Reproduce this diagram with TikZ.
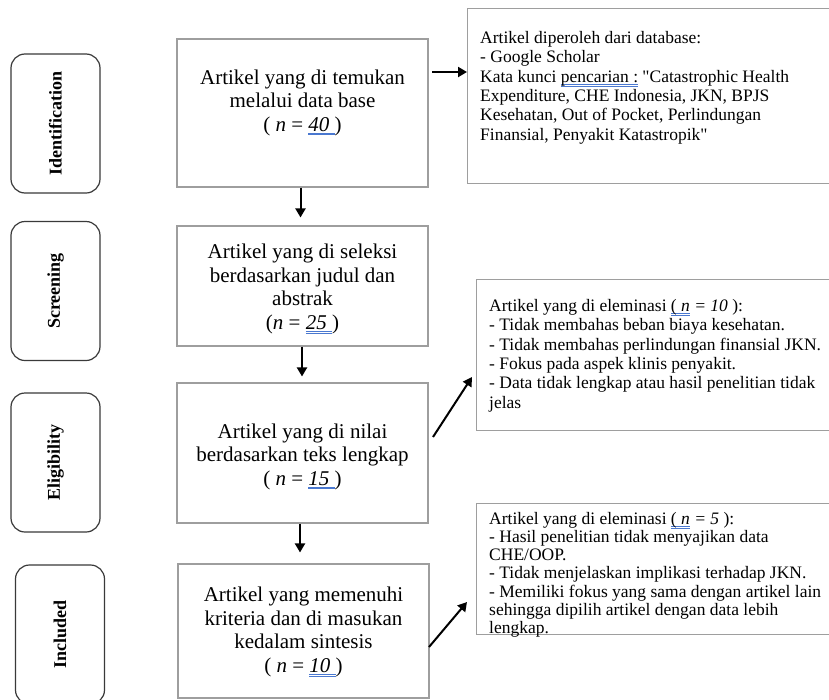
\documentclass[tikz,border=0pt]{standalone}
\usepackage{fontspec}
\setmainfont{Liberation Serif}[Ligatures=TeXOff]
\usetikzlibrary{arrows.meta}
\definecolor{boxgray}{HTML}{9E9E9E}
\definecolor{stagegray}{HTML}{3A3A3A}
\definecolor{ulblue}{HTML}{4A78D0}
\newcommand{\wul}[1]{\setbox0=\hbox{#1}\rlap{\color{ulblue}\raisebox{-2.4pt}{\rule{\wd0}{0.5pt}}}\rlap{\color{ulblue}\raisebox{-3.9pt}{\rule{\wd0}{0.5pt}}}\box0\relax}
\begin{document}
\begin{tikzpicture}[x=1pt,y=-1pt,
  stage/.style={draw=stagegray,line width=1.2pt,rounded corners=14pt,rotate=90,
    minimum width=139pt,minimum height=89pt,inner sep=0pt,
    font=\bfseries\fontsize{18}{20}\selectfont},
  mainbox/.style={draw=boxgray,line width=1.1pt,inner sep=0pt,minimum width=251pt},
  sidebox/.style={draw=boxgray,line width=1.1pt,inner sep=0pt},
  maintext/.style={align=center,inner sep=0pt,font=\fontsize{21}{23.5}\selectfont},
  sidetext/.style={align=left,inner sep=0pt,anchor=north west,font=\fontsize{17.5}{19.4}\selectfont},
  arr/.style={line width=2pt,-{Triangle[length=9pt,width=10pt]}}]
\clip (0,0) rectangle (829,699);
\fill[white] (0,0) rectangle (829,699);
% stage labels
\node[stage] (s1) at (55.5,123.5) {Identification};
\node[stage] (s2) at (55.5,291) {Screening};
\node[stage] (s3) at (55.5,462.5) {Eligibility};
\node[stage] (s4) at (60,634.5) {Included};
% main boxes
\node[mainbox,minimum height=148pt] (b1) at (302.5,113) {};
\node[mainbox,minimum height=120pt] (b2) at (302.5,286) {};
\node[mainbox,minimum height=140pt] (b3) at (302.5,453) {};
\node[mainbox,minimum height=134pt] (b4) at (303.5,631) {};
\node[maintext] (t1) at (302.5,102.5) {Artikel yang di temukan\\melalui data base\\( \textit{n} = \wul{\textit{40 }})};
\node[maintext] (t2) at (302.5,289) {Artikel yang di seleksi\\berdasarkan judul dan\\abstrak\\(\textit{n} = \wul{\textit{25 }})};
\node[maintext] (t3) at (302.5,456.5) {Artikel yang di nilai\\berdasarkan teks lengkap\\( \textit{n} = \wul{\textit{15 }})};
\node[maintext] (t4) at (303.5,632) {Artikel yang memenuhi\\kriteria dan di masukan\\kedalam sintesis\\( \textit{n} = \wul{\textit{10 }})};
% side boxes
\node[sidebox,minimum width=380pt,minimum height=175pt,anchor=north west] (r1) at (467,8) {};
\node[sidebox,minimum width=370pt,minimum height=151pt,anchor=north west] (r2) at (476,279) {};
\node[sidebox,minimum width=370pt,minimum height=131pt,anchor=north west] (r3) at (476,503) {};
\node[sidetext] (rt1) at (480,31) {Artikel diperoleh dari database:\\- Google Scholar\\Kata kunci \wul{pencarian :} "Catastrophic Health\\Expenditure, CHE Indonesia, JKN, BPJS\\Kesehatan, Out of Pocket, Perlindungan\\Finansial, Penyakit Katastropik"};
\node[sidetext] (rt2) at (489,299) {Artikel yang di eleminasi \wul{( \textit{n}} \textit{= 10} ):\\- Tidak membahas beban biaya kesehatan.\\- Tidak membahas perlindungan finansial JKN.\\- Fokus pada aspek klinis penyakit.\\- Data tidak lengkap atau hasil penelitian tidak\\jelas};
\node[sidetext,font=\fontsize{17.5}{18.2}\selectfont] (rt3) at (489,512) {Artikel yang di eleminasi \wul{( \textit{n}} \textit{= 5} ):\\- Hasil penelitian tidak menyajikan data\\CHE/OOP.\\- Tidak menjelaskan implikasi terhadap JKN.\\- Memiliki fokus yang sama dengan artikel lain\\sehingga dipilih artikel dengan data lebih\\lengkap.};
% connectors
\coordinate (c1) at (432,72);
\coordinate (c2a) at (433,437);
\coordinate (c2b) at (472,377);
\coordinate (c3a) at (429,647);
\coordinate (c3b) at (467,602);
\draw[arr,shorten >=8pt] (b1.south -| 300.5,0) -- (b2.north -| 300.5,0);
\draw[arr,shorten >=6pt] (b2.south -| 302,0) -- (b3.north -| 302,0);
\draw[arr,shorten >=11pt] (b3.south -| 300,0) -- (b4.north -| 300,0);
\draw[arr] (c1) -- (r1.west |- c1);
\draw[arr] (c2a) -- (c2b);
\draw[arr] (c3a) -- (c3b);
\end{tikzpicture}
\end{document}
